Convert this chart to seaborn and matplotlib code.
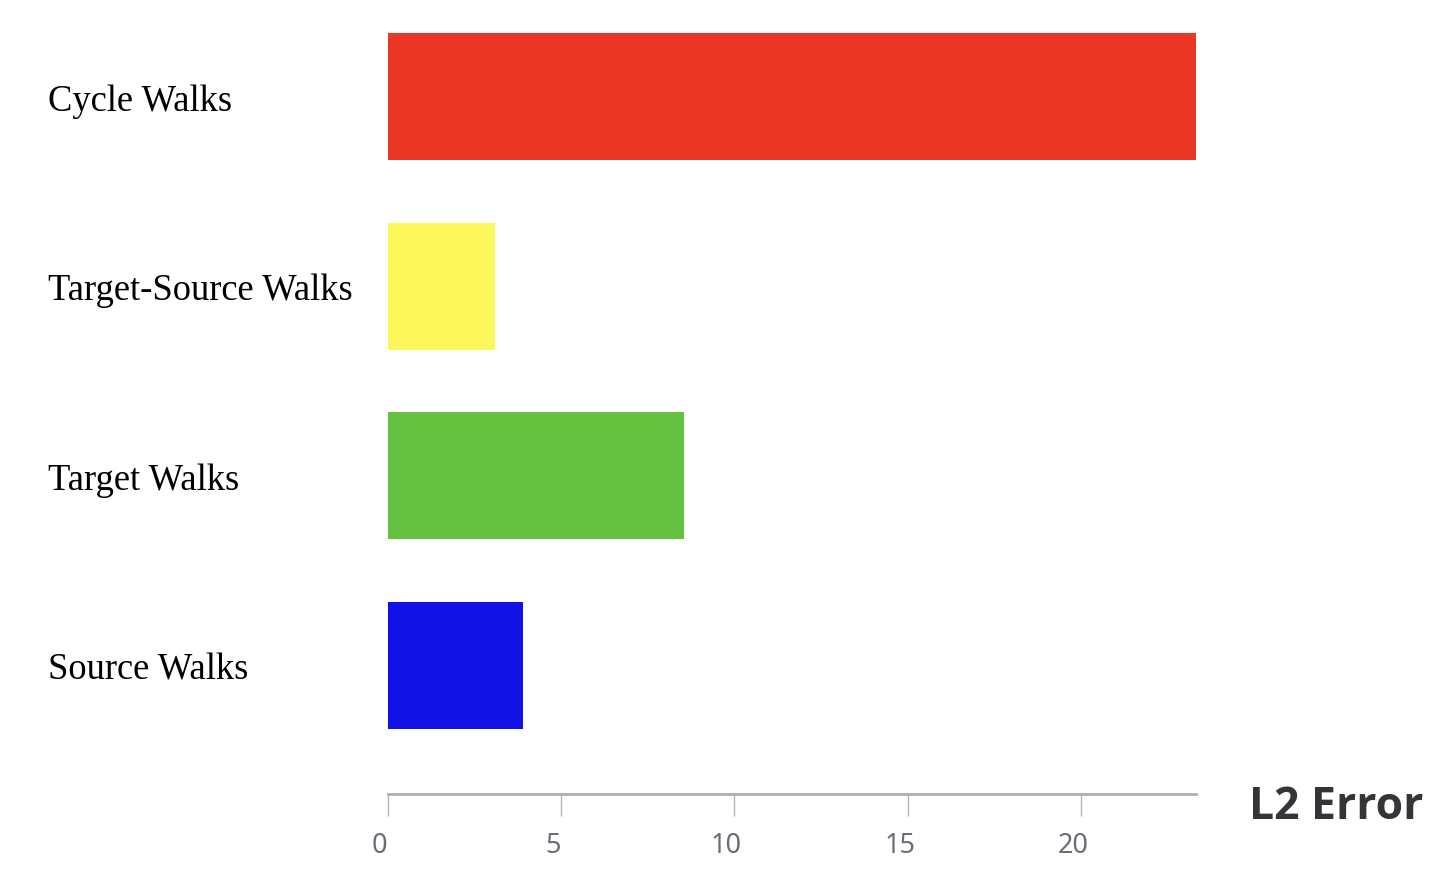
import matplotlib
matplotlib.use("Agg")
import matplotlib.pyplot as plt
import matplotlib.transforms as mtransforms
import seaborn as sns
import pandas as pd

categories = ["Cycle Walks", "Target-Source Walks", "Target Walks", "Source Walks"]
values = [23.31, 3.10, 8.56, 3.91]
colors = ["#E93625", "#FCF75A", "#64C240", "#1212E6"]
xticks = [0, 5, 10, 15, 20]
xlabel = "L2 Error"

sns.set_theme(style="white")
plt.rcParams['font.family'] = ['DejaVu Sans']

df = pd.DataFrame({"cat": categories, "val": values})

fig = plt.figure(figsize=(14.52, 8.8), dpi=100)
ax = fig.add_axes([387.5 / 1452, 86 / 880, 808.5 / 1452, 792.3 / 880])

sns.barplot(data=df, x="val", y="cat", hue="cat", palette=colors, order=categories,
            hue_order=categories, legend=False, width=0.67, saturation=1, ax=ax,
            orient="h", linewidth=0)

ax.set_xlim(0, 23.31)
ax.set_ylim(3.678, -0.5)

for s in ["top", "right", "left"]:
    ax.spines[s].set_visible(False)
ax.spines["bottom"].set_color("#b0b0b0")
ax.spines["bottom"].set_linewidth(2)

ax.set_xticks(xticks)
ax.set_xticklabels([str(t) for t in xticks], fontfamily="Noto Sans", fontsize=19.5, color="#6c6c78")
ax.tick_params(axis="x", length=16, width=1, color="#b5b5b5", pad=11, bottom=True, direction="out")
off = mtransforms.ScaledTranslation(-8 / 100, 0, fig.dpi_scale_trans)
for lab in ax.get_xticklabels():
    lab.set_transform(lab.get_transform() + off)

ax.set_yticks(range(len(categories)))
ax.set_yticklabels(categories, fontfamily="Liberation Serif", fontsize=26.3, color="#000000")
ax.tick_params(axis="y", length=0, pad=(387.5 - 48) * 0.72)
offy = mtransforms.ScaledTranslation(0, -1 / 100, fig.dpi_scale_trans)
for lab in ax.get_yticklabels():
    lab.set_horizontalalignment("left")
    lab.set_transform(lab.get_transform() + offy)

ax.set_ylabel("")
ax.set_xlabel(xlabel, fontfamily="Open Sans", fontsize=32, fontweight="bold", color="#333538",
              ha="left", va="center")
ax.xaxis.set_label_coords((1249 - 387.5) / 808.5, (794 - 807) / 792.3)

fig.savefig("out.png", dpi=100, facecolor="white")
